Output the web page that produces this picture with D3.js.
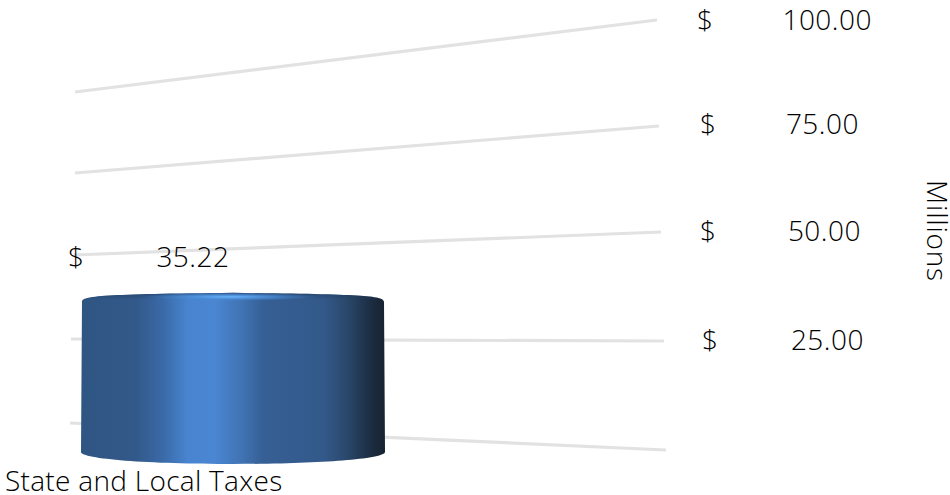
<!DOCTYPE html>
<html>
<head>
<meta charset="utf-8">
<script src="https://cdn.jsdelivr.net/npm/d3@7"></script>
<style>
html,body{margin:0;padding:0;background:#fff}
svg{display:block}
text{font-family:"Open Sans",sans-serif;font-weight:300;fill:#000}
</style>
</head>
<body>
<svg id="chart" width="950" height="495"></svg>
<script>
const categories = ["State and Local Taxes"];
const values = [35.22];
const tickValues = [0, 25, 50, 75, 100];
const tickLabels = ["25.00", "50.00", "75.00", "100.00"];
const axisTitle = "Millions";

const svg = d3.select("#chart");
const fontSize = 28;

// The floor and walls recede, so each gridline has its own end points.
const leftY = d3.scaleLinear().domain(tickValues).range([423, 339, 255, 173, 92]);
const rightY = d3.scaleLinear().domain(tickValues).range([450, 341, 232, 126, 20]);
const leftX = d3.scaleLinear().domain(tickValues).range([70, 71, 74, 75, 75]);
const rightX = d3.scaleLinear().domain(tickValues).range([666, 664, 661, 659, 657]);
const dollarX = d3.scaleLinear().domain(tickValues).range([720, 718, 716, 716, 713]);
const numberX = d3.scaleLinear().domain(tickValues).range([864, 864, 861, 859, 872]);
const labelY = d3.scaleLinear().domain(tickValues).range([449, 340, 231, 124, 20]);

const barX = d3.scaleBand().domain(categories).range([81, 385]);
const barY = d3.scaleLinear().domain([0, 100]).range([452, 20]);

const defs = svg.append("defs");

const bodyStops = [
  [0, "#2f5583"], [0.18, "#33598a"], [0.27, "#3a6aa8"], [0.35, "#4884d0"],
  [0.44, "#4a86d2"], [0.53, "#4073b2"], [0.6, "#365f95"], [0.8, "#33598a"],
  [0.88, "#294668"], [0.95, "#1c2e44"], [1, "#17222f"]
];
const bodyGrad = defs.append("linearGradient").attr("id", "body");
bodyGrad.selectAll("stop").data(bodyStops).join("stop")
  .attr("offset", d => d[0]).attr("stop-color", d => d[1]);

const glow = defs.append("radialGradient").attr("id", "glow");
glow.append("stop").attr("offset", 0).attr("stop-color", "#6ab6ff").attr("stop-opacity", 1);
glow.append("stop").attr("offset", 0.5).attr("stop-color", "#4f94e0").attr("stop-opacity", 0.7);
glow.append("stop").attr("offset", 1).attr("stop-color", "#4a88d6").attr("stop-opacity", 0);

const rim = defs.append("linearGradient").attr("id", "rim").attr("x2", 0).attr("y2", 1);
rim.append("stop").attr("offset", 0).attr("stop-color", "#1e3a5c").attr("stop-opacity", 0.7);
rim.append("stop").attr("offset", 1).attr("stop-color", "#1e3a5c").attr("stop-opacity", 0);

// Gridlines
svg.append("g").selectAll("line").data(tickValues).join("line")
  .attr("x1", d => leftX(d)).attr("y1", d => leftY(d))
  .attr("x2", d => rightX(d)).attr("y2", d => rightY(d))
  .attr("stroke", "#e2e2e2").attr("stroke-width", 3.2);

// Tick labels: the currency sign and the amount sit apart
const tickData = tickValues.slice(1).map((v, i) => ({ v, label: tickLabels[i] }));
const ticks = svg.append("g");
ticks.selectAll("text.sign").data(tickData).join("text").attr("class", "sign")
  .attr("x", d => dollarX(d.v)).attr("y", d => labelY(d.v) + 10)
  .attr("text-anchor", "end").attr("font-size", fontSize).text("$");
ticks.selectAll("text.num").data(tickData).join("text").attr("class", "num")
  .attr("x", d => numberX(d.v)).attr("y", d => labelY(d.v) + 10)
  .attr("text-anchor", "end").attr("font-size", fontSize).attr("letter-spacing", 0.5).text(d => d.label);

// Rotated axis title
svg.append("text")
  .attr("transform", "translate(927,231) rotate(90)")
  .attr("text-anchor", "middle").attr("font-size", 28).attr("letter-spacing", 0.8).text(axisTitle);

// Cylinder: softly rounded top rim and an elliptical bottom edge
function cylinderPath(x0, x1, top, bottom) {
  const mid = (x0 + x1) / 2, p = d3.path();
  p.moveTo(x0, bottom);
  p.lineTo(x0 + 1, top + 9);
  p.bezierCurveTo(x0 + 1, top + 3, x0 + 22, top + 1.5, mid, top);
  p.bezierCurveTo(x1 - 22, top + 1.5, x1 - 1, top + 3, x1 - 1, top + 9);
  p.lineTo(x1, bottom);
  p.bezierCurveTo(x1, bottom + 7, mid + 84, bottom + 12, mid, bottom + 12);
  p.bezierCurveTo(mid - 84, bottom + 12, x0, bottom + 7, x0, bottom);
  p.closePath();
  return p.toString();
}

const barData = categories.map((c, i) => ({ c, v: values[i] }));
const bars = svg.append("g").selectAll("g").data(barData).join("g");
const shape = d => cylinderPath(barX(d.c), barX(d.c) + barX.bandwidth(), barY(d.v) - 7, barY(0));

bars.append("path").attr("d", shape).attr("fill", "url(#body)");
defs.append("clipPath").attr("id", "bar-clip").selectAll("path")
  .data(barData).join("path").attr("d", shape);

const capped = bars.append("g").attr("clip-path", "url(#bar-clip)");
capped.append("rect")
  .attr("x", d => barX(d.c)).attr("y", d => barY(d.v) - 8)
  .attr("width", barX.bandwidth()).attr("height", 8).attr("fill", "url(#rim)");
capped.append("ellipse")
  .attr("cx", d => barX(d.c) + barX.bandwidth() * 0.49).attr("cy", d => barY(d.v) - 3)
  .attr("rx", barX.bandwidth() * 0.29).attr("ry", 4).attr("fill", "url(#glow)");

// Value label above the bar
bars.append("text").attr("x", d => barX(d.c) + 3).attr("y", d => barY(d.v) - 33)
  .attr("text-anchor", "end").attr("font-size", fontSize).text("$");
bars.append("text").attr("x", d => barX(d.c) + 148.5).attr("y", d => barY(d.v) - 33)
  .attr("text-anchor", "end").attr("font-size", fontSize).attr("letter-spacing", 0.5).text(d => d.v.toFixed(2));

// Category label
bars.append("text").attr("x", 5).attr("y", 491).attr("font-size", fontSize).attr("letter-spacing", 0.3).text(d => d.c);
</script>
</body>
</html>
